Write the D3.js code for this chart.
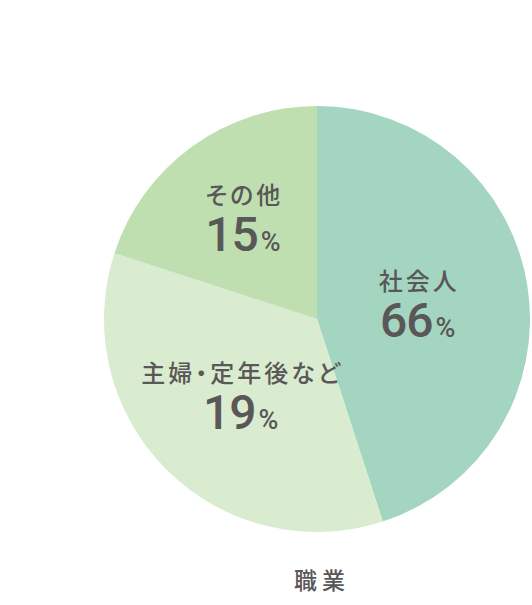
<!DOCTYPE html>
<meta charset="utf-8">
<style>
body { margin: 0; background: #fff; }
svg { display: block; }
.jp { font-feature-settings: "palt"; }
</style>
<svg id="chart" width="532" height="605"></svg>
<script src="https://cdn.jsdelivr.net/npm/d3@7"></script>
<script>
// slice sizes as drawn, and the percentages printed on them
var categories = ["社会人", "主婦・定年後など", "その他"];
var sliceShare = [45, 35, 20];
var labelPct = ["66", "19", "15"];
var colors = ["#a3d5c1", "#d9ecd0", "#c0dfb0"];
var title = "職業";

var svg = d3.select("#chart");
var cx = 317, cy = 319, R = 213;
var textColor = "#595757";
var jpFont = "'Noto Sans CJK JP', 'Noto Sans', sans-serif";
var numFont = "Roboto, 'Liberation Sans', Arial, sans-serif";

var g = svg.append("g").attr("transform", "translate(" + cx + "," + cy + ")");

var pie = d3.pie().sort(null).value(function(d) { return d; });
var arcs = pie(sliceShare);

var arc = d3.arc().innerRadius(0).outerRadius(R);

g.selectAll("path")
    .data(arcs)
  .enter().append("path")
    .attr("d", arc)
    .attr("fill", function(d, i) { return colors[i]; });

// label distance from centre, tuned per slice to sit like the original
var labelR = [102, 108, 126];

var labels = g.selectAll("g.label")
    .data(arcs)
  .enter().append("g")
    .attr("class", "label")
    .attr("transform", function(d, i) {
      var a = (d.startAngle + d.endAngle) / 2;
      return "translate(" + (Math.sin(a) * labelR[i]) + "," + (-Math.cos(a) * labelR[i]) + ")";
    });

labels.append("text")
    .attr("class", "jp")
    .attr("text-anchor", "middle")
    .attr("y", -13)
    .attr("dx", 1.5)
    .attr("font-family", jpFont)
    .attr("font-weight", 500)
    .attr("font-size", 24)
    .attr("letter-spacing", 3)
    .attr("fill", textColor)
    .text(function(d, i) { return categories[i]; });

var pct = labels.append("text")
    .attr("text-anchor", "middle")
    .attr("y", 34)
    .attr("fill", textColor)
    .attr("font-family", numFont)
    .attr("font-weight", 500);

pct.append("tspan")
    .attr("font-size", 48)
    .attr("letter-spacing", -1)
    .text(function(d, i) { return labelPct[i]; });

pct.append("tspan")
    .attr("font-size", 27)
    .attr("dx", 3)
    .text("%");

svg.append("text")
    .attr("x", 322)
    .attr("y", 589)
    .attr("text-anchor", "middle")
    .attr("font-family", jpFont)
    .attr("font-weight", 500)
    .attr("font-size", 23)
    .attr("letter-spacing", 5)
    .attr("fill", textColor)
    .text(title);
</script>
